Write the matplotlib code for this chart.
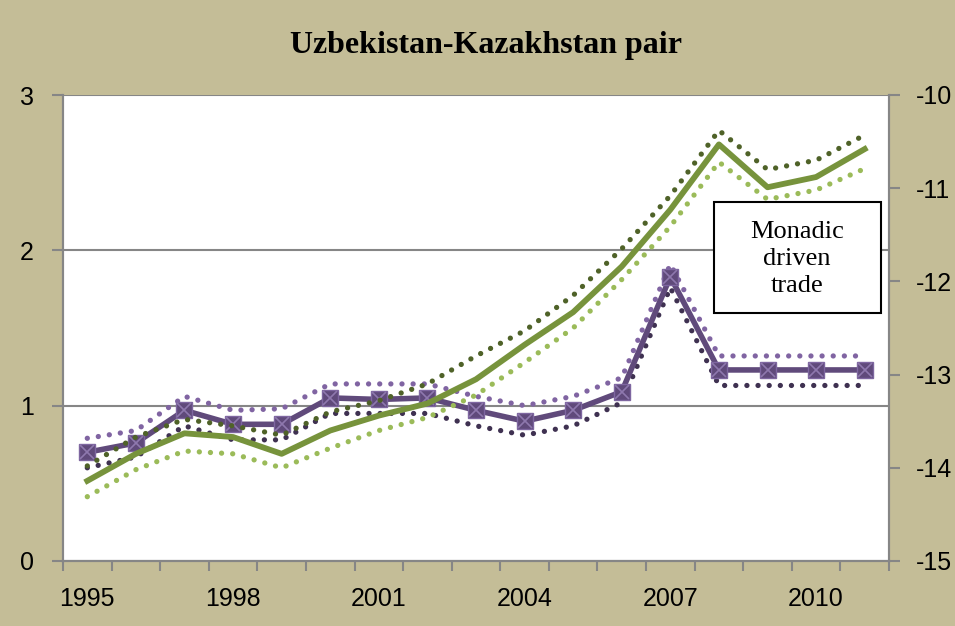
import matplotlib
matplotlib.use("Agg")
import matplotlib.pyplot as plt
from matplotlib.patches import Rectangle
import numpy as np

# values
years = list(range(1995, 2012))
year_labels = ["1995", "1998", "2001", "2004", "2007", "2010"]

# left axis (purple series with markers)
purple_mid = [0.70, 0.76, 0.97, 0.88, 0.88, 1.05, 1.04, 1.05, 0.97, 0.90, 0.97, 1.09, 1.83, 1.23, 1.23, 1.23, 1.23]
purple_hi = [0.79, 0.84, 1.06, 0.97, 0.98, 1.14, 1.14, 1.14, 1.06, 1.00, 1.06, 1.18, 1.91, 1.32, 1.32, 1.32, 1.32]
purple_lo = [0.60, 0.67, 0.87, 0.78, 0.78, 0.95, 0.95, 0.95, 0.87, 0.81, 0.87, 1.02, 1.76, 1.13, 1.13, 1.13, 1.13]

# right axis (green series)
green_mid = [-14.14, -13.85, -13.63, -13.67, -13.85, -13.60, -13.44, -13.31, -13.05, -12.68, -12.33, -11.84, -11.23, -10.53, -10.99, -10.88, -10.58]
green_hi = [-13.98, -13.67, -13.48, -13.55, -13.65, -13.40, -13.28, -13.10, -12.80, -12.53, -12.15, -11.65, -11.08, -10.38, -10.80, -10.70, -10.43]
green_lo = [-14.31, -14.02, -13.82, -13.85, -14.00, -13.79, -13.60, -13.46, -13.22, -12.87, -12.50, -11.98, -11.41, -10.72, -11.12, -11.02, -10.79]

left_ticks = [0, 1, 2, 3]
right_ticks = [-15, -14, -13, -12, -11, -10]

plt.rcParams["axes.unicode_minus"] = False
plt.rcParams["font.family"] = "Liberation Sans"

bg = "#C4BD97"
grey = "#868686"

fig = plt.figure(figsize=(9.55, 6.26), dpi=100, facecolor=bg)
ax = fig.add_axes([63 / 955, 1 - 561 / 626, 826 / 955, 466 / 626])
ax.set_facecolor("white")
ax2 = ax.twinx()

x = np.arange(len(years))
dot = (0, (0.01, 2.1))

# purple (left axis)
ax.plot(x, purple_hi, color="#8064A2", lw=3.8, linestyle=dot, dash_capstyle="round", zorder=3)
ax.plot(x, purple_lo, color="#3F3151", lw=3.8, linestyle=dot, dash_capstyle="round", zorder=3)
ax.plot(x, purple_mid, color="#604A7B", lw=4, zorder=4, marker="s", markersize=12,
        markerfacecolor="#604A7B", markeredgecolor="#7E66A0", markeredgewidth=1)
ax.plot(x, purple_mid, linestyle="none", marker="x", markersize=10, markeredgecolor="#8E78AE",
        markeredgewidth=1.2, zorder=5)

# green (right axis)
ax2.plot(x, green_hi, color="#4F6228", lw=3.8, linestyle=dot, dash_capstyle="round")
ax2.plot(x, green_lo, color="#9BBB59", lw=3.8, linestyle=dot, dash_capstyle="round")
ax2.plot(x, green_mid, color="#77933C", lw=4.2)

ax.set_xlim(-0.5, len(years) - 0.5)
ax.set_ylim(0, 3)
ax2.set_ylim(-15, -10)

ax.set_xticks(x[::3])
ax.set_xticklabels(year_labels)
ax.set_xticks(np.arange(-0.5, len(years), 1), minor=True)
ax.tick_params(axis="x", which="major", length=0, pad=19, labelsize=18)
ax.tick_params(axis="x", which="minor", length=7, width=1.5, color=grey)

ax.set_yticks(left_ticks)
ax.set_yticklabels([str(v) for v in left_ticks])
ax.tick_params(axis="y", length=8, width=1.5, color=grey, pad=13, labelsize=18)
ax2.set_yticks(right_ticks)
ax2.set_yticklabels([str(v) for v in right_ticks])
ax2.tick_params(axis="y", length=8, width=1.5, color=grey, pad=11, labelsize=18)

ax.grid(axis="y", color=grey, lw=1.5)
ax.set_axisbelow(True)

for a in (ax, ax2):
    for side in ("left", "right", "bottom"):
        a.spines[side].set_color(grey)
        a.spines[side].set_linewidth(1.5)
    a.spines["top"].set_visible(False)

fig.text(486 / 955, 1 - 45 / 626, "Uzbekistan-Kazakhstan pair", ha="center", va="center",
         fontsize=23, fontweight="bold", family="Liberation Serif")

box = Rectangle((714 / 955, 1 - 313 / 626), 167 / 955, 111 / 626, transform=fig.transFigure,
                facecolor="white", edgecolor="black", lw=1.5, zorder=5)
fig.add_artist(box)
fig.text(797 / 955, 1 - 259 / 626, "Monadic\ndriven\ntrade", ha="center", va="center",
         fontsize=19, family="Liberation Serif", linespacing=1.3, zorder=6)

fig.savefig("out.png", dpi=100, facecolor=bg)
